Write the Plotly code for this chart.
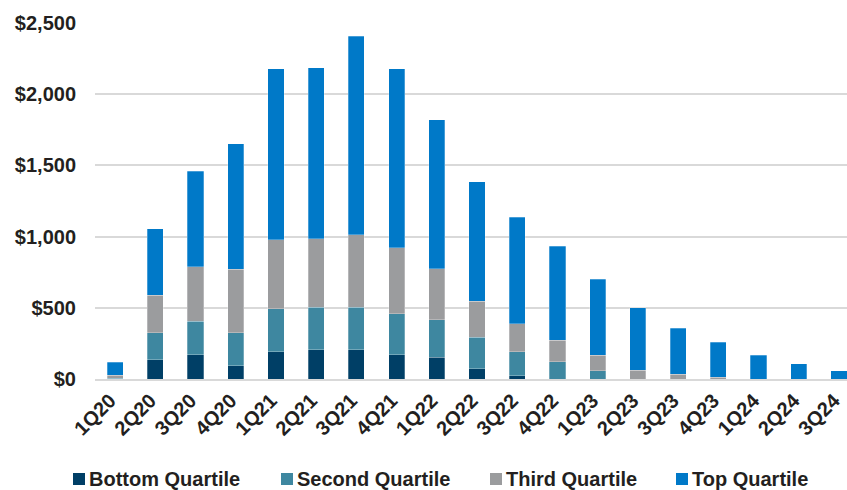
import plotly.graph_objects as go

# Quarterly amounts split by quartile ($)
quarters = ["1Q20", "2Q20", "3Q20", "4Q20", "1Q21", "2Q21", "3Q21", "4Q21",
            "1Q22", "2Q22", "3Q22", "4Q22", "1Q23", "2Q23", "3Q23", "4Q23",
            "1Q24", "2Q24", "3Q24"]
bottom_quartile = [0, 135, 170, 93, 191, 205, 205, 170, 154, 72, 23, 0, 0, 0, 0, 0, 0, 0, 0]
second_quartile = [5, 190, 234, 232, 302, 300, 300, 288, 262, 222, 168, 121, 58, 0, 0, 0, 0, 0, 0]
third_quartile = [23, 262, 383, 446, 486, 479, 509, 465, 357, 253, 197, 152, 108, 63, 35, 12, 0, 0, 0]
top_quartile = [90, 469, 671, 881, 1199, 1201, 1393, 1255, 1047, 839, 748, 659, 535, 437, 322, 245, 168, 107, 58]

y_tickvals = [0, 500, 1000, 1500, 2000, 2500]
y_ticktext = [f"${v:,}" for v in y_tickvals]

series = [
    ("Bottom Quartile", bottom_quartile, "#003f66"),
    ("Second Quartile", second_quartile, "#3e87a0"),
    ("Third Quartile", third_quartile, "#9b9c9e"),
    ("Top Quartile", top_quartile, "#0079c8"),
]

FONT = "Liberation Sans, Arial, sans-serif"
TEXT = "#231f20"

W, H = 847, 490
ML, MR, MT, MB = 95, 0, 23, 111
PLOT_W = W - ML - MR
PLOT_H = H - MT - MB


def px_to_paper_x(px):
    return (px - ML) / PLOT_W


def px_to_paper_y(py):
    return (H - MB - py) / PLOT_H


fig = go.Figure()
for name, vals, color in series:
    fig.add_trace(go.Bar(
        x=quarters, y=vals, name=name, width=0.4, showlegend=False,
        marker=dict(color=color, line=dict(color="rgba(255,255,255,0.45)", width=0.6)),
    ))

# Legend row below the axis: colour key square followed by its label
legend_left = [73, 281, 490, 676]
for (name, _, color), left in zip(series, legend_left):
    fig.add_shape(
        type="rect", xref="paper", yref="paper",
        x0=px_to_paper_x(left), x1=px_to_paper_x(left + 12),
        y0=px_to_paper_y(485), y1=px_to_paper_y(473),
        fillcolor=color, line=dict(width=0),
    )
    fig.add_annotation(
        text=name, xref="paper", yref="paper",
        x=px_to_paper_x(left + 14), y=px_to_paper_y(479),
        xanchor="left", yanchor="middle", showarrow=False,
        font=dict(family=FONT, size=20, color=TEXT, weight="bold"),
    )

fig.update_layout(
    barmode="stack",
    width=W, height=H,
    margin=dict(l=ML, r=MR, t=MT, b=MB, autoexpand=False),
    paper_bgcolor="white", plot_bgcolor="white",
    font=dict(family=FONT, size=19, color=TEXT, weight="bold"),
    showlegend=False,
)

fig.update_xaxes(
    type="category", range=[-0.5, 18.2], tickangle=-45,
    showgrid=False, showline=True, linecolor="#d9d9d9", linewidth=2,
    ticks="", ticklabelshift=-5,
    tickfont=dict(family=FONT, size=20, color=TEXT, weight="bold"),
    automargin=False,
)
fig.update_yaxes(
    range=[0, 2500], tickvals=y_tickvals, ticktext=y_ticktext,
    showgrid=True, gridcolor="#d9d9d9", gridwidth=1.5,
    zeroline=False, showline=False, ticks="",
    ticklabelstandoff=18,
    tickfont=dict(family=FONT, size=20, color=TEXT, weight="bold"),
    automargin=False,
)

fig.write_html("out.html")
